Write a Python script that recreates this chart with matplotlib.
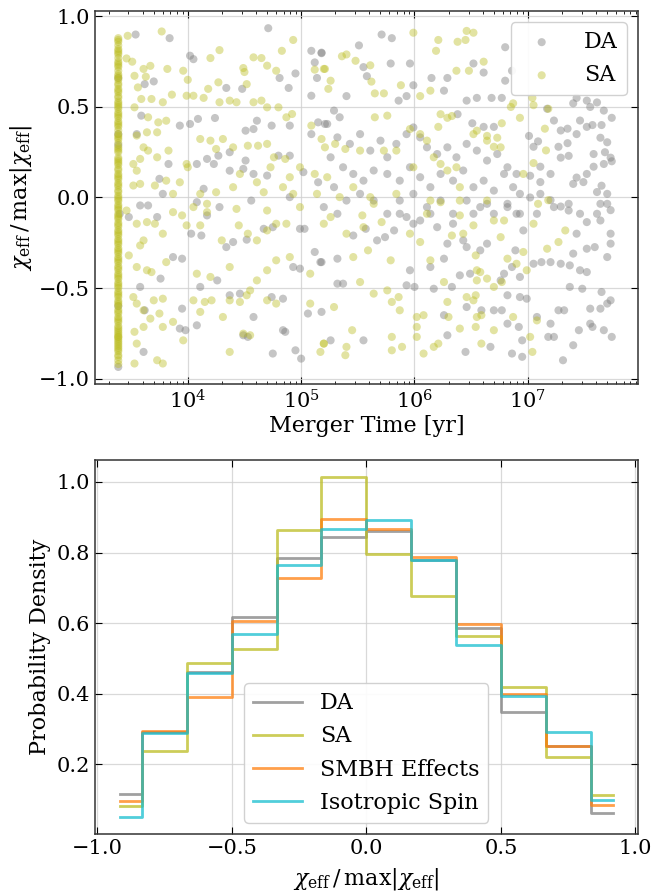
import numpy as np
import matplotlib.pyplot as plt

plt.rcParams['font.family'] = ['DejaVu Serif']
plt.rcParams['mathtext.fontset'] = 'dejavuserif'

# ---- top panel: (log10 merger time [yr], chi_eff / max|chi_eff|) ----
t_min_log = 3.387  # shortest merger time, where the SA column sits

da_points = [
    (3.54, 0.90), (3.84, 0.88), (4.71, 0.935), (4.02, 0.783), (4.05, 0.764), (5.09, 0.81),
    (5.18, 0.797), (5.12, 0.746), (4.95, 0.685), (4.81, 0.66), (4.89, 0.605), (5.14, 0.66),
    (5.09, 0.562), (4.48, 0.60), (4.34, 0.605), (3.70, 0.641), (3.62, 0.626), (3.59, 0.452),
    (3.55, 0.35), (3.93, 0.397), (4.02, 0.406), (4.09, 0.434), (4.24, 0.439), (4.51, 0.369),
    (4.58, 0.378), (4.61, 0.424), (4.74, 0.397), (4.90, 0.397), (5.15, 0.415), (5.21, 0.406),
    (5.09, 0.35), (4.17, 0.213), (4.23, 0.185), (4.27, 0.231), (4.37, 0.25), (4.51, 0.204),
    (4.37, 0.148), (4.49, 0.158), (4.58, 0.13), (4.70, 0.121), (4.80, 0.231), (4.90, 0.231),
    (5.02, 0.14), (5.15, 0.084), (3.75, 0.103), (3.78, 0.02), (3.65, -0.044), (4.08, -0.026),
    (4.14, 0.048), (4.28, -0.053), (4.56, -0.017), (4.90, 0.002), (4.08, 0.185), (3.83, 0.185),
    (3.387, 0.66), (3.387, 0.35), (3.387, 0.29), (3.387, -0.936), (3.387, -0.60),
    (5.71, 0.90), (5.80, 0.88), (5.51, 0.84), (6.80, 0.83), (5.18, 0.80), (5.79, 0.74),
    (5.96, 0.74), (6.52, 0.74), (6.61, 0.69), (5.55, 0.72), (5.58, 0.67), (6.86, 0.70),
    (6.80, 0.645), (5.99, 0.62), (6.15, 0.66), (6.29, 0.66), (6.26, 0.59), (5.40, 0.56),
    (5.86, 0.535), (5.93, 0.56), (6.46, 0.535), (6.55, 0.55), (6.68, 0.55), (6.77, 0.55),
    (7.43, 0.55), (7.52, 0.535), (7.61, 0.525), (7.40, 0.52), (7.55, 0.50), (7.17, 0.49),
    (7.23, 0.425), (7.35, 0.38), (7.29, 0.37), (7.67, 0.48), (7.74, 0.44), (7.65, 0.40),
    (7.57, 0.40), (7.46, 0.425), (7.52, 0.39), (6.38, 0.46), (6.51, 0.41), (6.61, 0.39),
    (6.70, 0.39), (7.01, 0.34), (7.09, 0.31), (7.05, 0.28), (7.27, 0.28), (7.35, 0.30),
    (7.43, 0.35), (7.36, 0.23), (7.29, 0.22), (7.58, 0.24), (7.68, 0.25), (7.73, 0.22),
    (7.67, 0.185), (7.74, 0.20), (7.64, 0.33), (7.70, 0.305), (7.11, 0.17), (7.20, 0.13),
    (7.11, 0.085), (7.02, 0.12), (7.40, 0.075), (7.49, 0.085), (7.43, 0.11), (7.65, 0.065),
    (7.70, 0.02), (7.61, 0.03), (7.52, 0.13), (7.58, 0.17), (6.93, 0.02), (7.02, 0.0),
    (7.11, 0.02), (7.20, -0.015), (7.29, -0.05), (7.36, -0.035), (7.46, -0.09), (7.64, -0.035),
    (7.73, -0.07),
    (5.29, 0.48), (5.34, 0.443), (5.23, 0.406), (5.32, 0.332), (5.43, 0.296), (5.52, 0.35),
    (5.61, 0.259), (5.70, 0.314), (5.76, 0.222), (5.84, 0.296), (5.93, 0.35), (5.99, 0.387),
    (6.05, 0.332), (6.11, 0.277), (6.20, 0.24), (6.29, 0.277), (6.37, 0.222), (6.46, 0.296),
    (6.55, 0.259), (6.64, 0.204), (6.73, 0.24), (6.82, 0.167), (6.90, 0.13), (5.26, 0.222),
    (5.37, 0.167), (5.46, 0.13), (5.55, 0.093), (5.64, 0.149), (5.76, 0.13), (5.87, 0.093),
    (5.96, 0.167), (6.05, 0.112), (6.14, 0.057), (6.23, 0.13), (6.34, 0.093), (6.43, 0.149),
    (6.52, 0.057), (6.61, 0.093), (6.70, 0.038), (6.79, 0.13), (6.87, 0.057), (5.29, 0.057),
    (5.40, -0.017), (5.52, 0.02), (5.64, -0.017), (5.76, -0.09), (5.87, -0.017), (5.99, 0.02),
    (6.11, -0.053), (6.23, -0.017), (6.34, -0.09), (6.46, -0.017), (6.58, -0.053), (6.70, -0.09),
    (6.82, -0.035), (6.93, -0.09), (5.20, -0.053), (5.32, -0.09),
    (3.40, -0.09), (3.48, -0.108), (3.58, -0.044), (3.73, -0.108), (3.87, -0.329), (3.95, -0.338),
    (4.03, -0.20), (4.12, -0.21), (4.17, -0.099), (4.34, -0.274), (4.40, -0.246), (4.52, -0.233),
    (4.67, -0.173), (4.75, -0.164), (4.99, -0.173), (5.03, -0.173), (5.12, -0.301), (5.18, -0.357),
    (3.76, -0.448), (3.58, -0.494), (4.11, -0.494), (4.26, -0.458), (4.37, -0.54), (4.46, -0.531),
    (4.58, -0.66), (4.74, -0.55), (4.84, -0.559), (4.93, -0.384), (4.99, -0.393), (5.06, -0.641),
    (5.18, -0.632), (3.95, -0.614), (3.93, -0.724), (3.98, -0.733), (4.08, -0.706), (4.49, -0.761),
    (4.53, -0.77), (4.84, -0.733), (4.86, -0.742), (4.75, -0.862), (4.95, -0.844), (5.00, -0.89),
    (3.61, -0.853), (3.62, -0.623),
    (5.17, -0.357), (5.32, -0.338), (5.37, -0.476), (5.46, -0.21), (5.57, -0.173), (5.67, -0.237),
    (5.74, -0.219), (5.82, -0.182), (5.87, -0.09), (5.93, -0.108), (5.99, -0.145), (6.05, -0.127),
    (6.14, -0.09), (6.20, -0.164), (6.26, -0.338), (6.14, -0.384), (5.96, -0.402), (6.00, -0.494),
    (6.17, -0.504), (6.33, -0.494), (6.40, -0.43), (6.49, -0.421), (6.46, -0.605), (6.59, -0.623),
    (6.70, -0.623), (6.77, -0.623), (6.82, -0.697), (6.92, -0.715), (6.95, -0.789), (6.93, -0.55),
    (6.99, -0.559), (6.86, -0.862), (6.95, -0.88), (6.45, -0.853), (6.67, -0.825), (6.29, -0.761),
    (6.26, -0.65), (7.08, -0.66), (7.20, -0.697), (7.27, -0.623), (7.32, -0.623), (7.18, -0.77),
    (7.23, -0.77), (7.31, -0.899), (7.40, -0.816), (7.45, -0.733), (7.55, -0.697), (7.57, -0.715),
    (7.64, -0.614), (7.73, -0.568), (7.70, -0.586), (7.67, -0.733), (7.74, -0.77), (7.55, -0.614),
    (7.37, -0.494), (7.48, -0.504), (7.65, -0.522), (7.46, -0.402), (7.37, -0.375), (7.52, -0.412),
    (7.05, -0.366), (7.12, -0.357), (7.20, -0.357), (7.29, -0.366), (6.86, -0.384), (6.93, -0.439),
    (6.79, -0.421), (6.76, -0.458), (6.82, -0.54), (7.40, -0.31), (7.52, -0.283), (7.59, -0.274),
    (7.73, -0.255), (7.70, -0.329), (7.43, -0.20), (7.52, -0.136), (7.64, -0.127), (7.73, -0.20),
    (7.61, -0.09), (7.70, -0.035), (7.36, -0.072), (7.23, -0.053), (7.08, -0.09), (6.96, -0.182),
    (6.89, -0.292), (6.64, -0.255), (6.58, -0.292), (6.46, -0.274), (6.43, -0.237), (6.34, -0.145),
    (6.29, -0.255), (6.52, -0.09), (6.64, -0.035), (6.82, -0.053), (6.90, -0.09), (5.93, -0.485),
    (5.26, -0.789), (5.55, -0.789), (5.32, -0.476),
]

sa_points = [
    (3.47, 0.893), (3.77, 0.917), (3.46, 0.768), (3.51, 0.75), (3.61, 0.71), (3.67, 0.727),
    (3.53, 0.672), (3.63, 0.667), (3.82, 0.71), (3.96, 0.70), (4.00, 0.65), (4.28, 0.814),
    (4.20, 0.77), (4.58, 0.774), (4.65, 0.77), (4.83, 0.81), (4.93, 0.87), (4.49, 0.715),
    (4.50, 0.693), (4.70, 0.728), (4.78, 0.70), (5.12, 0.706), (5.21, 0.71), (3.56, 0.608),
    (3.59, 0.544), (3.68, 0.544), (3.78, 0.526), (3.86, 0.568), (3.99, 0.562), (4.05, 0.562),
    (4.14, 0.55), (4.18, 0.60), (4.27, 0.636), (4.28, 0.526), (4.37, 0.535), (4.43, 0.526),
    (4.52, 0.626), (4.58, 0.526), (4.65, 0.535), (4.70, 0.498), (4.80, 0.498), (4.92, 0.461),
    (3.53, 0.498), (3.65, 0.443), (3.74, 0.415), (3.81, 0.424), (3.55, 0.342), (3.64, 0.36),
    (3.73, 0.36), (3.61, 0.277), (3.65, 0.259), (3.58, 0.213), (3.52, 0.185), (3.55, 0.148),
    (3.73, 0.222), (3.83, 0.259), (3.99, 0.185), (4.00, 0.167), (4.11, 0.323), (4.20, 0.314),
    (4.25, 0.268), (4.31, 0.323), (4.40, 0.277), (4.53, 0.286), (4.62, 0.286), (4.70, 0.296),
    (4.76, 0.222), (4.86, 0.213), (4.46, 0.13), (4.61, 0.084), (4.73, 0.167), (4.90, 0.112),
    (4.99, 0.167), (5.12, 0.13), (5.21, 0.277), (5.09, 0.397), (4.87, 0.443), (3.52, 0.066),
    (3.58, 0.075), (3.71, 0.066), (3.81, 0.093), (3.93, 0.084), (3.87, 0.02), (4.11, 0.02),
    (4.25, 0.029), (4.40, 0.057), (4.67, 0.029), (4.84, 0.057), (4.93, 0.02), (5.14, 0.02),
    (4.17, -0.035), (4.43, -0.063), (4.70, -0.072), (4.99, -0.053),
    (5.99, 0.91), (6.21, 0.87), (6.46, 0.92), (6.52, 0.91), (6.38, 0.86), (6.45, 0.87),
    (6.19, 0.81), (5.36, 0.78), (5.40, 0.79), (5.48, 0.755), (6.61, 0.75), (6.37, 0.70),
    (6.48, 0.70), (5.61, 0.73), (5.62, 0.64), (5.88, 0.62), (6.14, 0.59), (5.20, 0.71),
    (5.24, 0.60), (5.26, 0.645), (5.65, 0.575), (5.73, 0.575), (6.05, 0.56), (7.04, 0.55),
    (7.05, 0.51), (6.85, 0.50), (6.87, 0.52), (6.93, 0.44), (7.18, 0.49), (7.15, 0.38),
    (6.23, 0.46), (6.29, 0.44), (6.33, 0.45), (6.21, 0.39), (6.52, 0.35), (6.64, 0.34),
    (6.70, 0.28), (6.77, 0.41), (6.73, 0.33), (7.16, 0.26), (7.05, 0.19), (6.96, 0.13),
    (7.09, -0.035), (7.18, -0.015),
    (5.18, 0.323), (5.30, 0.296), (5.39, 0.268), (5.65, 0.443), (5.76, 0.452), (5.73, 0.259),
    (5.96, 0.378), (6.05, 0.35), (6.11, 0.314), (5.84, 0.259), (5.99, 0.167), (6.17, 0.222),
    (6.23, 0.185), (6.29, 0.149), (6.37, 0.167), (6.40, 0.057), (6.55, 0.369), (6.64, 0.314),
    (6.76, 0.277), (5.46, 0.057), (5.34, 0.002), (5.61, 0.002), (5.84, 0.02), (6.14, -0.017),
    (6.40, -0.017), (6.64, -0.017), (5.23, 0.112), (5.52, 0.259),
    (3.46, -0.072), (3.55, -0.145), (3.64, -0.136), (3.71, -0.145), (3.78, -0.20), (3.61, -0.237),
    (3.58, -0.265), (3.81, -0.357), (3.48, -0.32), (3.55, -0.384), (3.64, -0.402), (3.68, -0.412),
    (3.87, -0.081), (3.95, -0.099), (3.99, -0.154), (4.05, -0.053), (4.11, -0.154), (4.17, -0.081),
    (4.30, -0.237), (4.37, -0.384), (4.45, -0.154), (4.53, -0.20), (4.61, -0.237), (4.70, -0.182),
    (4.78, -0.145), (4.87, -0.145), (4.90, -0.329), (4.70, -0.402), (4.78, -0.347), (5.08, -0.421),
    (3.52, -0.55), (3.55, -0.586), (3.70, -0.568), (3.78, -0.559), (3.61, -0.623), (3.67, -0.669),
    (3.75, -0.641), (3.78, -0.715), (3.53, -0.742), (3.61, -0.715), (3.55, -0.807), (3.73, -0.899),
    (3.78, -0.917), (3.53, -0.917), (4.08, -0.421), (4.05, -0.568), (4.15, -0.577), (4.21, -0.568),
    (4.20, -0.439), (4.37, -0.568), (4.31, -0.66), (4.11, -0.632), (3.87, -0.687), (3.96, -0.789),
    (4.37, -0.853), (4.46, -0.577), (4.52, -0.54), (4.55, -0.513), (4.61, -0.458), (4.70, -0.568),
    (4.78, -0.586), (4.49, -0.752), (4.55, -0.761), (5.08, -0.586), (5.17, -0.853), (5.20, -0.807),
    (5.20, -0.145), (5.26, -0.108), (5.40, -0.20), (5.46, -0.329), (5.54, -0.099), (5.55, -0.164),
    (5.59, -0.292), (5.64, -0.035), (5.71, -0.136), (5.79, -0.347), (5.52, -0.467), (5.64, -0.531),
    (5.76, -0.513), (5.80, -0.577), (5.86, -0.55), (5.87, -0.623), (5.29, -0.605), (5.45, -0.733),
    (5.40, -0.825), (5.39, -0.871), (5.20, -0.807), (5.80, -0.77), (5.89, -0.825), (5.80, -0.844),
    (6.02, -0.66), (6.02, -0.715), (6.08, -0.65), (6.02, -0.77), (6.08, -0.862), (6.17, -0.825),
    (6.21, -0.807), (6.29, -0.577), (6.30, -0.66), (6.40, -0.724), (6.46, -0.55), (6.54, -0.54),
    (6.52, -0.568), (6.55, -0.458), (6.58, -0.412), (6.64, -0.448), (6.70, -0.494), (6.77, -0.467),
    (6.55, -0.66), (6.54, -0.715), (6.59, -0.65), (6.70, -0.733), (6.59, -0.807), (6.87, -0.66),
    (7.02, -0.77), (7.08, -0.679), (7.04, -0.853), (5.96, -0.20), (6.05, -0.246), (6.14, -0.347),
    (6.26, -0.467), (6.33, -0.21), (6.43, -0.20), (6.54, -0.32), (6.55, -0.402), (6.82, -0.338),
    (6.90, -0.366), (6.96, -0.301), (6.99, -0.402), (7.05, -0.145), (7.17, -0.283), (7.27, -0.246),
    (7.33, -0.182), (6.70, -0.127), (6.79, -0.127), (6.76, -0.219), (6.52, -0.154), (6.40, -0.099),
    (6.23, -0.026), (6.11, -0.09),
]

# SA binaries piling up at the shortest merger time
sa_column_y = [
    0.88, 0.86, 0.84, 0.81, 0.79, 0.77, 0.74, 0.72, 0.70, 0.67, 0.65, 0.62, 0.60, 0.58,
    0.55, 0.53, 0.51, 0.49, 0.46, 0.44, 0.41, 0.39, 0.37, 0.34, 0.32, 0.30, 0.27, 0.25,
    0.22, 0.20, 0.18, 0.15, 0.13, 0.11, 0.08, 0.06, 0.03, 0.01, -0.02, -0.04, -0.06, -0.09,
    -0.11, -0.14, -0.16, -0.18, -0.21, -0.23, -0.26, -0.28, -0.30, -0.33, -0.35, -0.38,
    -0.40, -0.42, -0.45, -0.47, -0.50, -0.52, -0.54, -0.57, -0.59, -0.62, -0.64, -0.66,
    -0.69, -0.71, -0.74, -0.76, -0.78, -0.80, -0.82, -0.85, -0.88, -0.92,
    0.82, 0.75, 0.68, 0.63, 0.56, 0.50, 0.45, 0.42, 0.35, 0.28, 0.21, 0.16, 0.10, 0.04,
    -0.01, -0.07, -0.12, -0.19, -0.24, -0.31, -0.36, -0.43, -0.48, -0.55, -0.60, -0.67,
    -0.72, -0.75, -0.77, -0.79, -0.83,
    0.87, 0.80, 0.73, 0.66, 0.59, 0.52, 0.47, 0.40, 0.33, 0.26, 0.19, 0.12, 0.07, 0.00,
    -0.05, -0.10, -0.15, -0.20, -0.25, -0.29, -0.34, -0.39, -0.44, -0.49, -0.53, -0.58,
    -0.63, -0.68, -0.73, -0.77, -0.81, -0.84, -0.87, -0.90,
]

# ---- bottom panel: binned probability density (bin centres) ----
bin_centers = [-0.9167, -0.75, -0.5833, -0.4167, -0.25, -0.0833,
               0.0833, 0.25, 0.4167, 0.5833, 0.75, 0.9167]
dens_da = [0.115, 0.293, 0.462, 0.617, 0.785, 0.845, 0.861, 0.778, 0.586, 0.348, 0.253, 0.061]
dens_sa = [0.083, 0.237, 0.487, 0.527, 0.865, 1.014, 0.795, 0.677, 0.564, 0.420, 0.220, 0.112]
dens_smbh = [0.097, 0.295, 0.392, 0.605, 0.729, 0.895, 0.867, 0.787, 0.597, 0.400, 0.253, 0.084]
dens_iso = [0.052, 0.290, 0.459, 0.569, 0.765, 0.867, 0.892, 0.778, 0.538, 0.393, 0.292, 0.100]

fig = plt.figure(figsize=(6.53, 8.94), dpi=100)
ax1 = fig.add_axes([0.1455, 0.5705, 0.831, 0.4172])
ax2 = fig.add_axes([0.1455, 0.0675, 0.831, 0.418])

da = np.array(da_points)
sa = np.array(sa_points)
col_t = np.full(len(sa_column_y), 10 ** t_min_log)

ax1.scatter(10 ** da[:, 0], da[:, 1], s=34, color='gray', alpha=0.45,
            edgecolors='none', label='DA', zorder=2)
ax1.scatter(10 ** sa[:, 0], sa[:, 1], s=34, color='tab:olive', alpha=0.42,
            edgecolors='none', label='SA', zorder=3)
ax1.scatter(col_t, sa_column_y, s=34, color='tab:olive', alpha=0.42,
            edgecolors='none', zorder=3)
ax1.set_xscale('log')
ax1.set_xlim(1520, 9.3e7)
ax1.set_ylim(-1.03, 1.03)
ax1.set_yticks([-1.0, -0.5, 0.0, 0.5, 1.0])
ax1.set_xlabel('Merger Time [yr]', fontsize=16, labelpad=2)
ax1.set_ylabel(r'$\chi_{\rm eff}\,/\,\max|\chi_{\rm eff}|$', fontsize=16, labelpad=4)
ax1.legend(loc='upper right', fontsize=16, markerscale=1.0, handletextpad=0.9,
           framealpha=0.9)

ax2.step(bin_centers, dens_da, where='mid', color='gray', lw=2, alpha=0.75, label='DA')
ax2.step(bin_centers, dens_sa, where='mid', color='tab:olive', lw=2, alpha=0.75, label='SA')
ax2.step(bin_centers, dens_smbh, where='mid', color='tab:orange', lw=2, alpha=0.75,
         label='SMBH Effects')
ax2.step(bin_centers, dens_iso, where='mid', color='tab:cyan', lw=2, alpha=0.75,
         label='Isotropic Spin')
ax2.set_xticks([-1.0, -0.5, 0.0, 0.5, 1.0])
ax2.set_yticks([0.2, 0.4, 0.6, 0.8, 1.0])
ax2.set_xlabel(r'$\chi_{\rm eff}\,/\,\max|\chi_{\rm eff}|$', fontsize=16, labelpad=6)
ax2.set_ylabel('Probability Density', fontsize=16)
ax2.legend(loc='lower center', fontsize=16, handlelength=2.2, framealpha=0.9)

for ax in (ax1, ax2):
    ax.grid(True, color='#d0d0d0', lw=0.9, alpha=0.8)
    ax.set_axisbelow(True)
    ax.tick_params(which='both', direction='in', top=True, right=True, labelsize=15)
    ax.tick_params(which='major', length=5)
    ax.tick_params(which='minor', length=2.5)
    for sp in ax.spines.values():
        sp.set_color('#333333')
        sp.set_linewidth(1.1)

fig.savefig('out.png', dpi=100)
